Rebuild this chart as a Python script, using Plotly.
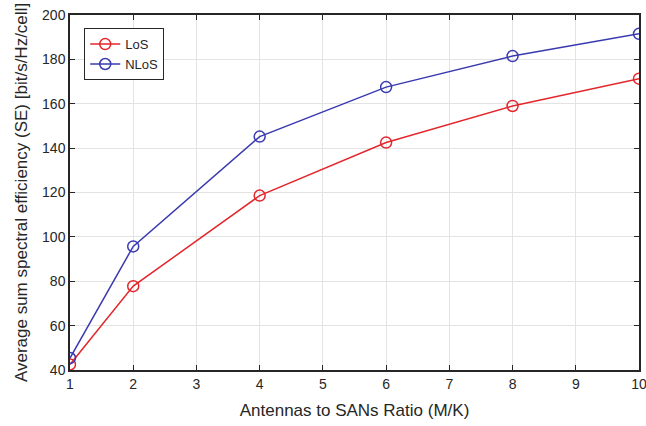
import plotly.graph_objects as go

# data
ratio = [1, 2, 4, 6, 8, 10]
se_los = [42.5, 77.8, 118.6, 142.5, 159.0, 171.3]
se_nlos = [45.4, 95.7, 145.2, 167.5, 181.5, 191.5]

axis_col = '#262626'
grid_col = '#e3e3e3'

fig = go.Figure()
fig.add_trace(go.Scatter(
    x=ratio, y=se_los, name='LoS', mode='lines+markers',
    line=dict(color='#e3262b', width=1.5),
    marker=dict(symbol='circle-open', size=11, color='#e3262b', line=dict(width=1.5))
))
fig.add_trace(go.Scatter(
    x=ratio, y=se_nlos, name='NLoS', mode='lines+markers',
    line=dict(color='#3a3ab0', width=1.5),
    marker=dict(symbol='circle-open', size=11, color='#3a3ab0', line=dict(width=1.5))
))

fig.update_layout(
    width=646, height=426,
    margin=dict(l=70, r=7, t=15, b=56),
    paper_bgcolor='white', plot_bgcolor='white',
    font=dict(family='Liberation Sans, Arial, sans-serif', size=14, color=axis_col),
    showlegend=True,
    legend=dict(
        x=0.025, y=0.963, xanchor='left', yanchor='top',
        bgcolor='white', bordercolor=axis_col, borderwidth=1,
        font=dict(size=13), tracegroupgap=0, itemwidth=30
    ),
    xaxis=dict(
        title=dict(text='Antennas to SANs Ratio (M/K)', standoff=14),
        range=[1, 10], tickvals=list(range(1, 11)), automargin=False,
        ticklabeloverflow='allow',
        showgrid=True, gridcolor=grid_col, zeroline=False,
        showline=True, linecolor=axis_col, linewidth=1.5, mirror='ticks',
        ticks='inside', ticklen=5, tickcolor=axis_col
    ),
    yaxis=dict(
        title=dict(text='Average sum spectral efficiency (SE) [bit/s/Hz/cell]', standoff=10),
        range=[40, 200], tickvals=list(range(40, 201, 20)), automargin=False,
        ticklabeloverflow='allow',
        showgrid=True, gridcolor=grid_col, zeroline=False,
        showline=True, linecolor=axis_col, linewidth=1.5, mirror='ticks',
        ticks='inside', ticklen=5, tickcolor=axis_col
    )
)

# page body has a default 8px margin; drop it so the figure sits at the window origin
fig.write_html("out.html", config={'displayModeBar': False},
               post_script="document.body.style.margin='0px';")
